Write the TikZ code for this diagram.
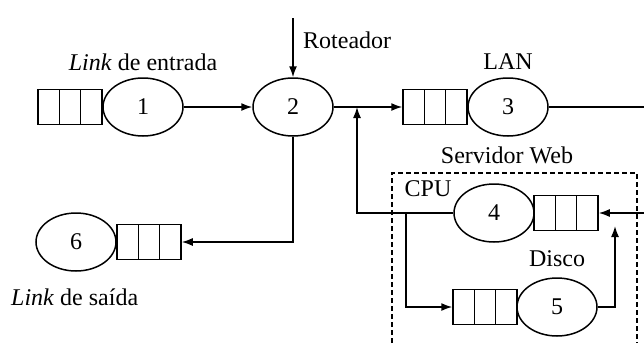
\documentclass[tikz,border=0pt]{standalone}
\usepackage{fontspec}
\setmainfont{Liberation Serif}
\usetikzlibrary{shapes.geometric,arrows.meta}
\begin{document}
\begin{tikzpicture}[x=1pt,y=-1pt,
  every node/.style={font=\fontsize{24}{28}\selectfont, inner sep=0pt},
  ln/.style={line width=1.5pt},
  serv/.style={ellipse, draw, ln, minimum width=80pt, minimum height=58pt},
  queue/.style={draw, ln, minimum width=64pt, minimum height=35pt,
    path picture={
      \foreach \f in {21.33,42.67}{
        \draw[ln] ([xshift=\f pt]path picture bounding box.south west) -- ([xshift=\f pt]path picture bounding box.north west);}}},
  arr/.style={ln, -{Latex[length=11pt,width=8pt]}},
  lbl/.style={}]
\useasboundingbox (0,0) rectangle (644,343);
% nodes
\node[queue] (q1) at (70,107) {};
\node[serv] (e1) at (143,107) {1};
\node[serv] (e2) at (293,107) {2};
\node[queue] (q3) at (435,107) {};
\node[serv] (e3) at (508,107) {3};
\node[serv] (e4) at (494,213) {4};
\node[queue] (q4) at (566,213) {};
\node[queue] (q5) at (485,307) {};
\node[serv] (e5) at (557,307) {5};
\node[serv] (e6) at (76,242) {6};
\node[queue] (q6) at (149,242) {};
% labels
\node[lbl] (l1) at (143,62) {\textit{Link} de entrada};
\node[lbl, anchor=west] (lr) at (303,40) {Roteador};
\node[lbl] (l3) at (508,62) {LAN};
\node[lbl] (lsw) at (507,155) {Servidor Web};
\node[lbl] (lcpu) at (428,189) {CPU};
\node[lbl] (ld) at (557,259) {Disco};
\node[lbl, anchor=west] (l6) at (11,297) {\textit{Link} de saída};
% coordinates
\coordinate (rin) at (293,18);
\coordinate (j) at (357,107);
\coordinate (out3) at (644,107);
\coordinate (b) at (406,213);
\coordinate (up5) at (615,226);
\coordinate (in4) at (644,213);
% connectors
\draw[arr] (e1.east) -- (e2.west);
\draw[arr] (rin) -- (e2.north);
\draw[arr] (e2.east) -- (q3.west);
\draw[ln] (e3.east) -- (out3);
\draw[arr] (e4.west) -| (j);
\draw[arr] (b) |- (q5.west);
\draw[arr] (e5.east) -| (up5);
\draw[arr] (in4) -- (q4.east);
\draw[arr] (e2.south) |- (q6.east);
% dashed box
\draw[ln, line width=1.2pt, dash pattern=on 5pt off 3pt] (392,343) -- (392,173) -- (637,173) -- (637,343);
\end{tikzpicture}
\end{document}
